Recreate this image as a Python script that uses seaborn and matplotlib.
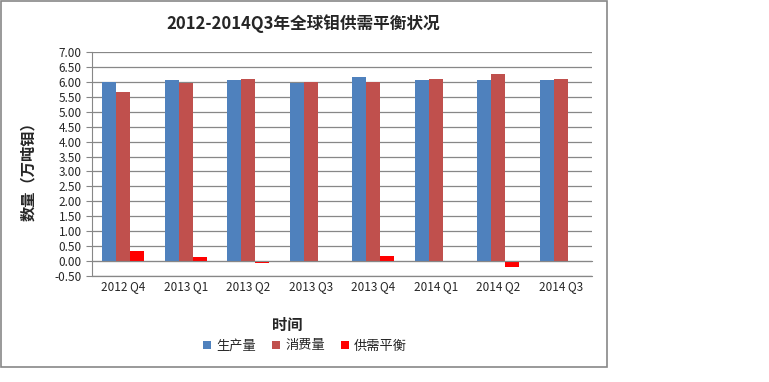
import numpy as np
import pandas as pd
import seaborn as sns
import matplotlib.pyplot as plt
from matplotlib.patches import Rectangle
from matplotlib.ticker import MultipleLocator, FormatStrFormatter

quarters = ["2012 Q4", "2013 Q1", "2013 Q2", "2013 Q3",
            "2013 Q4", "2014 Q1", "2014 Q2", "2014 Q3"]
production = [5.98, 6.07, 6.05, 5.95, 6.17, 6.07, 6.07, 6.07]
consumption = [5.65, 5.95, 6.11, 6.01, 5.98, 6.11, 6.28, 6.11]
balance = [0.34, 0.15, -0.06, 0.0, 0.17, 0.0, -0.20, 0.0]
series = ["生产量", "消费量", "供需平衡"]
colors = ["#4F81BD", "#C0504D", "#FF0000"]

df = pd.DataFrame({"时间": quarters * 3,
                   "数量": production + consumption + balance,
                   "系列": np.repeat(series, len(quarters))})

sns.set_style("white")
plt.rcParams['font.family'] = ['Noto Sans CJK SC', 'DejaVu Sans']

fig = plt.figure(figsize=(7.69, 3.82), dpi=100)
ax = fig.add_axes([92 / 769, 1 - 276 / 382, 500 / 769, 224 / 382])

sns.barplot(data=df, x="时间", y="数量", hue="系列", palette=colors,
            width=0.67, gap=0, saturation=1, linewidth=0, ax=ax, legend=True)

ax.set_ylim(-0.5, 7.0)
ax.set_xlim(-0.5, len(quarters) - 0.5)
ax.yaxis.set_major_locator(MultipleLocator(0.5))
ax.yaxis.set_major_formatter(FormatStrFormatter("%.2f"))
ax.grid(axis="y", color="#878787", linewidth=0.9)
ax.axhline(-0.5, color="#878787", linewidth=0.9, clip_on=False, zorder=0)
ax.set_axisbelow(True)

for s in ["top", "right"]:
    ax.spines[s].set_visible(False)
ax.spines["left"].set_color("#878787")
ax.spines["bottom"].set_color("#878787")
ax.spines["bottom"].set_position(("data", 0))

ax.set_xticks(np.arange(-0.5, len(quarters)), minor=True)
ax.tick_params(axis="x", which="major", length=0, pad=14, labelsize=8.5)
ax.tick_params(axis="x", which="minor", length=4, color="#878787", direction="out")
ax.tick_params(axis="y", length=4, color="#878787", direction="out", labelsize=8.5, left=True)

ax.set_xlabel("")
ax.set_ylabel("")
fig.text(303 / 769, 1 - 24 / 382, "2012-2014Q3年全球钼供需平衡状况",
         ha="center", va="center", fontsize=12, fontweight="bold")
fig.text(28 / 769, 1 - 168 / 382, "数量（万吨钼）", rotation=90,
         ha="center", va="center", fontsize=11, fontweight="bold")
fig.text(287 / 769, 1 - 325 / 382, "时间", ha="center", va="center",
         fontsize=11, fontweight="bold")

handles, labels = ax.get_legend_handles_labels()
ax.get_legend().remove()
fig.legend(handles, labels, loc="center", bbox_to_anchor=(305 / 769, 1 - 346 / 382),
           ncol=3, frameon=False, fontsize=9.5, handlelength=0.6, handleheight=0.6,
           columnspacing=1.2, handletextpad=0.4)

fig.patches.append(Rectangle((1 / 769, 1 - 367 / 382), 606 / 769, 366 / 382,
                             transform=fig.transFigure, fill=False,
                             edgecolor="#878787", linewidth=1.2))

fig.savefig("out.png", dpi=100)
